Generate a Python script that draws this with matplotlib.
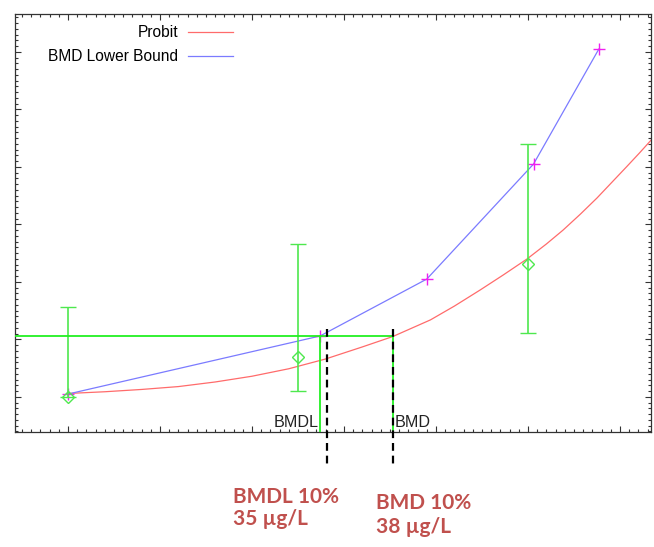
#!/usr/bin/env python3
"""BMDS-style probit fit with BMD / BMDL markers and annotations."""
import matplotlib
matplotlib.use("Agg")
import matplotlib.pyplot as plt
import numpy as np
from matplotlib.ticker import MultipleLocator, AutoMinorLocator

# observed dose groups (mean with lower/upper confidence limits)
DOSES = np.array([0.0, 25.0, 50.0])
MEANS = np.array([0.0, 0.70, 2.31])
LOWER = np.array([0.0, 0.11, 1.11])
UPPER = np.array([1.57, 2.66, 4.40])

# fitted probit curve
PROBIT_X = [0.0, 4.0, 8.0, 12.0, 16.0, 20.0, 24.0, 28.0, 32.0, 35.3, 39.4, 42.0,
            44.8, 47.3, 49.9, 52.0, 53.8, 55.7, 57.5, 59.1, 60.7, 62.1, 63.4]
PROBIT_Y = [0.06, 0.09, 0.13, 0.18, 0.26, 0.36, 0.49, 0.66, 0.87, 1.05, 1.34, 1.58,
            1.86, 2.12, 2.40, 2.66, 2.90, 3.18, 3.46, 3.73, 4.00, 4.24, 4.47]

# lower-bound curve points
BMDL_CURVE_X = [0.0, 27.4, 39.0, 50.6, 57.7]
BMDL_CURVE_Y = [0.05, 1.06, 2.05, 4.05, 6.05]

BMR_LEVEL = 1.06
BMD = 35.3
BMDL = 27.4
DASH_X = [28.2, 35.3]

NOTE_BMDL = ["BMDL 10%", "35 µg/L"]
NOTE_BMD = ["BMD 10%", "38 µg/L"]

X_LIM = (-5.76, 63.37)
Y_LIM = (-0.61, 6.66)

RED = "#ff6b6b"
BLUE = "#7b7bff"
GREEN = "#22f022"
GREEN_ERR = "#4ee84e"
MAGENTA = "#f020f0"
FRAME = "#333333"
NOTE_RED = "#c0504d"

W, H = 654, 547
fig = plt.figure(figsize=(W / 100, H / 100), dpi=100)
ax = fig.add_axes([15 / W, 1 - 432 / H, 636 / W, 418 / H])

ax.plot(PROBIT_X, PROBIT_Y, color=RED, lw=0.9, label="Probit", zorder=2)
ax.plot(BMDL_CURVE_X, BMDL_CURVE_Y, color=BLUE, lw=0.9, label="BMD Lower Bound", zorder=2)
ax.plot(BMDL_CURVE_X, BMDL_CURVE_Y, ls="none", marker="+", ms=8, mew=1.0,
        color=MAGENTA, zorder=3)

ax.errorbar(DOSES, MEANS, yerr=[MEANS - LOWER, UPPER - MEANS], fmt="D", ms=6,
            mfc="none", mec=GREEN_ERR, mew=1.0, ecolor=GREEN_ERR, elinewidth=1.2,
            capsize=5.8, capthick=1.2, zorder=4)

# BMR / BMD / BMDL guide lines
ax.plot([X_LIM[0], BMD], [BMR_LEVEL, BMR_LEVEL], color=GREEN, lw=1.3, zorder=5)
ax.plot([BMDL, BMDL], [Y_LIM[0], BMR_LEVEL], color=GREEN, lw=1.3, zorder=5)
ax.plot([BMD, BMD], [Y_LIM[0], BMR_LEVEL], color=GREEN, lw=1.3, zorder=5)

ax.text(BMDL - 0.15, -0.52, "BMDL", ha="right", va="baseline", fontsize=11.6,
        family="Liberation Sans", color="#222222")
ax.text(BMD + 0.25, -0.52, "BMD", ha="left", va="baseline", fontsize=11.6,
        family="Liberation Sans", color="#222222")

for xd in DASH_X:
    ax.plot([xd, xd], [1.18, -1.22], color="black", lw=1.6, ls=(0, (3.5, 2.2)),
            clip_on=False, zorder=6)

ax.set_xlim(*X_LIM)
ax.set_ylim(*Y_LIM)
ax.xaxis.set_major_locator(MultipleLocator(10))
ax.xaxis.set_minor_locator(AutoMinorLocator(10))
ax.yaxis.set_major_locator(MultipleLocator(1))
ax.yaxis.set_minor_locator(AutoMinorLocator(10))
ax.tick_params(which="both", direction="in", top=True, right=True,
               labelbottom=False, labelleft=False, color=FRAME, width=0.8)
ax.tick_params(which="major", length=4.5)
ax.tick_params(which="minor", length=2.0)
for sp in ax.spines.values():
    sp.set_color(FRAME)
    sp.set_linewidth(0.9)

leg = ax.legend(loc="upper right", bbox_to_anchor=(233 / W, 1 - 25 / H),
                bbox_transform=fig.transFigure, markerfirst=False, frameon=False,
                borderpad=0, borderaxespad=0, handlelength=2.9, handletextpad=0.64,
                labelspacing=0.58, prop={"family": "Liberation Sans", "size": 11.2})

for i, line in enumerate(NOTE_BMDL):
    fig.text(233 / W, 1 - (503 + 22 * i) / H, line, ha="left", va="baseline",
             fontsize=15, family="Lato", weight="bold", color=NOTE_RED)
for i, line in enumerate(NOTE_BMD):
    fig.text(376 / W, 1 - (509 + 24 * i) / H, line, ha="left", va="baseline",
             fontsize=15, family="Lato", weight="bold", color=NOTE_RED)

fig.savefig("out.png", dpi=100)
